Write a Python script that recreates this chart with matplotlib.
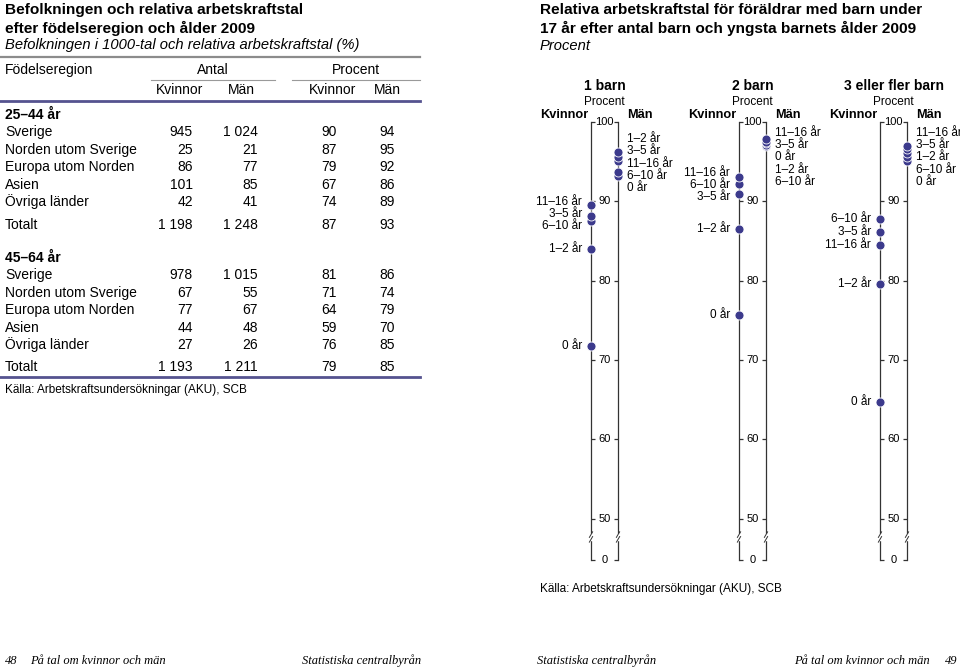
import matplotlib.pyplot as plt
import numpy as np

plt.rcParams['font.family'] = ['Liberation Sans', 'DejaVu Sans']

# ---- table data (left page) ----
regions = ["Sverige", "Norden utom Sverige", "Europa utom Norden", "Asien", "Övriga länder"]

antal_kv_25 = [945, 25, 86, 101, 42]
antal_man_25 = [1024, 21, 77, 85, 41]
pct_kv_25 = [90, 87, 79, 67, 74]
pct_man_25 = [94, 95, 92, 86, 89]
total_25 = [1198, 1248, 87, 93]

antal_kv_45 = [978, 67, 77, 44, 27]
antal_man_45 = [1015, 55, 67, 48, 26]
pct_kv_45 = [81, 71, 64, 59, 76]
pct_man_45 = [86, 74, 79, 70, 85]
total_45 = [1193, 1211, 79, 85]

# ---- chart data (right page) ----
ages = ["0 år", "1–2 år", "3–5 år", "6–10 år", "11–16 år"]
panels = ["1 barn", "2 barn", "3 eller fler barn"]
kvinnor = [
    [71.8, 84.0, 88.1, 87.5, 89.5],
    [75.6, 86.5, 90.9, 92.2, 93.0],
    [64.7, 79.6, 86.1, 87.7, 84.5],
]
man = [
    [93.1, 96.2, 95.6, 93.7, 95.0],
    [97.3, 97.1, 97.5, 96.9, 97.8],
    [95.1, 96.0, 96.5, 95.5, 96.9],
]
ticks = [100, 90, 80, 70, 60, 50]

DOT = '#3c3a8c'
RULE = '#55538f'
W, H = 960, 670
fig = plt.figure(figsize=(9.6, 6.7), dpi=100)

# overlay in pixel coordinates for text and rules
bg = fig.add_axes([0, 0, 1, 1])
bg.set_xlim(0, W)
bg.set_ylim(H, 0)
bg.axis('off')


def fmt(v):
    return f"{v:,}".replace(",", " ")


# ---------------- left page: table ----------------
bg.text(5, 10, "Befolkningen och relativa arbetskraftstal", fontsize=11.1, fontweight='bold', va='center')
bg.text(5, 28, "efter födelseregion och ålder 2009", fontsize=11.1, fontweight='bold', va='center')
bg.text(5, 45, "Befolkningen i 1000-tal och relativa arbetskraftstal (%)", fontsize=10.6, style='italic', va='center')

bg.plot([0, 420], [57, 57], color='#8c8c8c', lw=1.6)
bg.text(5, 70, "Födelseregion", fontsize=10, va='center')
bg.text(213, 70, "Antal", fontsize=10, va='center', ha='center')
bg.text(356, 70, "Procent", fontsize=10, va='center', ha='center')
bg.plot([151, 275], [80, 80], color='#9a9a9a', lw=0.8)
bg.plot([292, 420], [80, 80], color='#9a9a9a', lw=0.8)
for x, lbl in zip([180, 241, 333, 387], ["Kvinnor", "Män", "Kvinnor", "Män"]):
    bg.text(x, 90, lbl, fontsize=10, va='center', ha='center')
bg.plot([0, 420], [101, 101], color=RULE, lw=2)

col_right = [193, 258, 337, 395]


def table_block(y0, title, cols, totals, total_y):
    bg.text(5, y0, title, fontsize=10, fontweight='bold', va='center')
    for i, reg in enumerate(regions):
        y = y0 + 17.4 * (i + 1)
        bg.text(5, y, reg, fontsize=10, va='center')
        for xr, col in zip(col_right, cols):
            bg.text(xr, y, fmt(col[i]), fontsize=10, va='center', ha='right')
    bg.text(5, total_y, "Totalt", fontsize=10, va='center')
    for xr, v in zip(col_right, totals):
        bg.text(xr, total_y, fmt(v), fontsize=10, va='center', ha='right')


table_block(115, "25–44 år", [antal_kv_25, antal_man_25, pct_kv_25, pct_man_25], total_25, 225)
table_block(258, "45–64 år", [antal_kv_45, antal_man_45, pct_kv_45, pct_man_45], total_45, 367)
bg.plot([0, 420], [377, 377], color=RULE, lw=2)
bg.text(5, 390, "Källa: Arbetskraftsundersökningar (AKU), SCB", fontsize=8.5, va='center')

# ---------------- right page: chart ----------------
bg.text(540, 10, "Relativa arbetskraftstal för föräldrar med barn under", fontsize=11.1, fontweight='bold', va='center')
bg.text(540, 28, "17 år efter antal barn och yngsta barnets ålder 2009", fontsize=11.1, fontweight='bold', va='center')
bg.text(540, 46, "Procent", fontsize=10.6, style='italic', va='center')
bg.text(540, 589, "Källa: Arbetskraftsundersökningar (AKU), SCB", fontsize=8.5, va='center')

ZERO = 44.8   # where "0" sits below the axis break
BREAK = 47.7
GAP = 1.55


def spread(vals, top_limit=98.6):
    order = sorted(range(len(vals)), key=lambda i: -vals[i])
    clusters, cur = [], [order[0]]
    for i in order[1:]:
        if vals[cur[-1]] - vals[i] < GAP:
            cur.append(i)
        else:
            clusters.append(cur)
            cur = [i]
    clusters.append(cur)
    pos = {}
    for c in clusters:
        top = np.mean([vals[i] for i in c]) + GAP * (len(c) - 1) / 2
        top = min(top, top_limit)
        for k, i in enumerate(c):
            pos[i] = top - k * GAP
    return pos


panel_left = [591, 739, 880]
pw = 27
y_top, y_bot = 121.7, 560

for p, name in enumerate(panels):
    x0 = panel_left[p]
    ax = fig.add_axes([x0 / W, 1 - y_bot / H, pw / W, (y_bot - y_top) / H])
    ax.set_xlim(0, 1)
    ax.set_ylim(ZERO, 100)
    ax.patch.set_alpha(0)
    for s in ['top', 'bottom']:
        ax.spines[s].set_visible(False)
    for s in ['left', 'right']:
        ax.spines[s].set_color('#333333')
        ax.spines[s].set_linewidth(0.9)
    ax.set_xticks([])
    ax.set_yticks(ticks + [ZERO])
    ax.tick_params(axis='y', direction='in', left=True, right=True,
                   labelleft=False, labelright=False, length=3, width=0.9, color='#333333')
    for t in ticks:
        ax.text(0.5, t, str(t), transform=ax.get_yaxis_transform(), ha='center', va='center', fontsize=8)
    ax.text(0.5, ZERO, "0", transform=ax.get_yaxis_transform(), ha='center', va='center', fontsize=8)

    # axis break marks
    tr = ax.get_yaxis_transform()
    for xs in [0, 1]:
        ax.plot([xs, xs], [BREAK - 0.3, BREAK + 0.3], color='white', lw=2.5, transform=tr, clip_on=False, zorder=3)
        for dy in [-0.3, 0.3]:
            ax.plot([xs - 0.06, xs + 0.06], [BREAK + dy - 0.35, BREAK + dy + 0.35], color='#333333',
                    lw=0.7, transform=tr, clip_on=False, zorder=4)

    # dots, drawn low to high so the upper dot sits on top
    for xs, vals in [(0, kvinnor[p]), (1, man[p])]:
        order = np.argsort(vals)
        for i in order:
            ax.scatter([xs], [vals[i]], s=42, color=DOT, edgecolor='white', linewidth=0.6,
                       transform=tr, clip_on=False, zorder=5)

    # labels
    pos_k = spread(kvinnor[p])
    for i, lbl in enumerate(ages):
        ax.annotate(lbl, (0, pos_k[i]), xycoords=tr, xytext=(-6.5, 0), textcoords='offset points',
                    ha='right', va='center', fontsize=8.5)
    pos_m = spread(man[p])
    for i, lbl in enumerate(ages):
        ax.annotate(lbl, (1, pos_m[i]), xycoords=tr, xytext=(6.5, 0), textcoords='offset points',
                    ha='left', va='center', fontsize=8.5)

    xc = x0 + pw / 2
    bg.text(xc, 86, name, fontsize=10, fontweight='bold', ha='center', va='center')
    bg.text(xc, 102, "Procent", fontsize=8.5, ha='center', va='center')
    bg.text(x0 - 3, 115, "Kvinnor", fontsize=9.2, fontweight='bold', ha='right', va='center')
    bg.text(x0 + pw + 9, 115, "Män", fontsize=9.2, fontweight='bold', ha='left', va='center')

# ---------------- page footers ----------------
serif = dict(family='Liberation Serif', style='italic', fontsize=9, va='center')
bg.text(5, 661, "48", **serif)
bg.text(30, 661, "På tal om kvinnor och män", **serif)
bg.text(421, 661, "Statistiska centralbyrån", ha='right', **serif)
bg.text(537, 661, "Statistiska centralbyrån", **serif)
bg.text(930, 661, "På tal om kvinnor och män", ha='right', **serif)
bg.text(957, 661, "49", ha='right', **serif)

fig.savefig("out.png", dpi=100)
